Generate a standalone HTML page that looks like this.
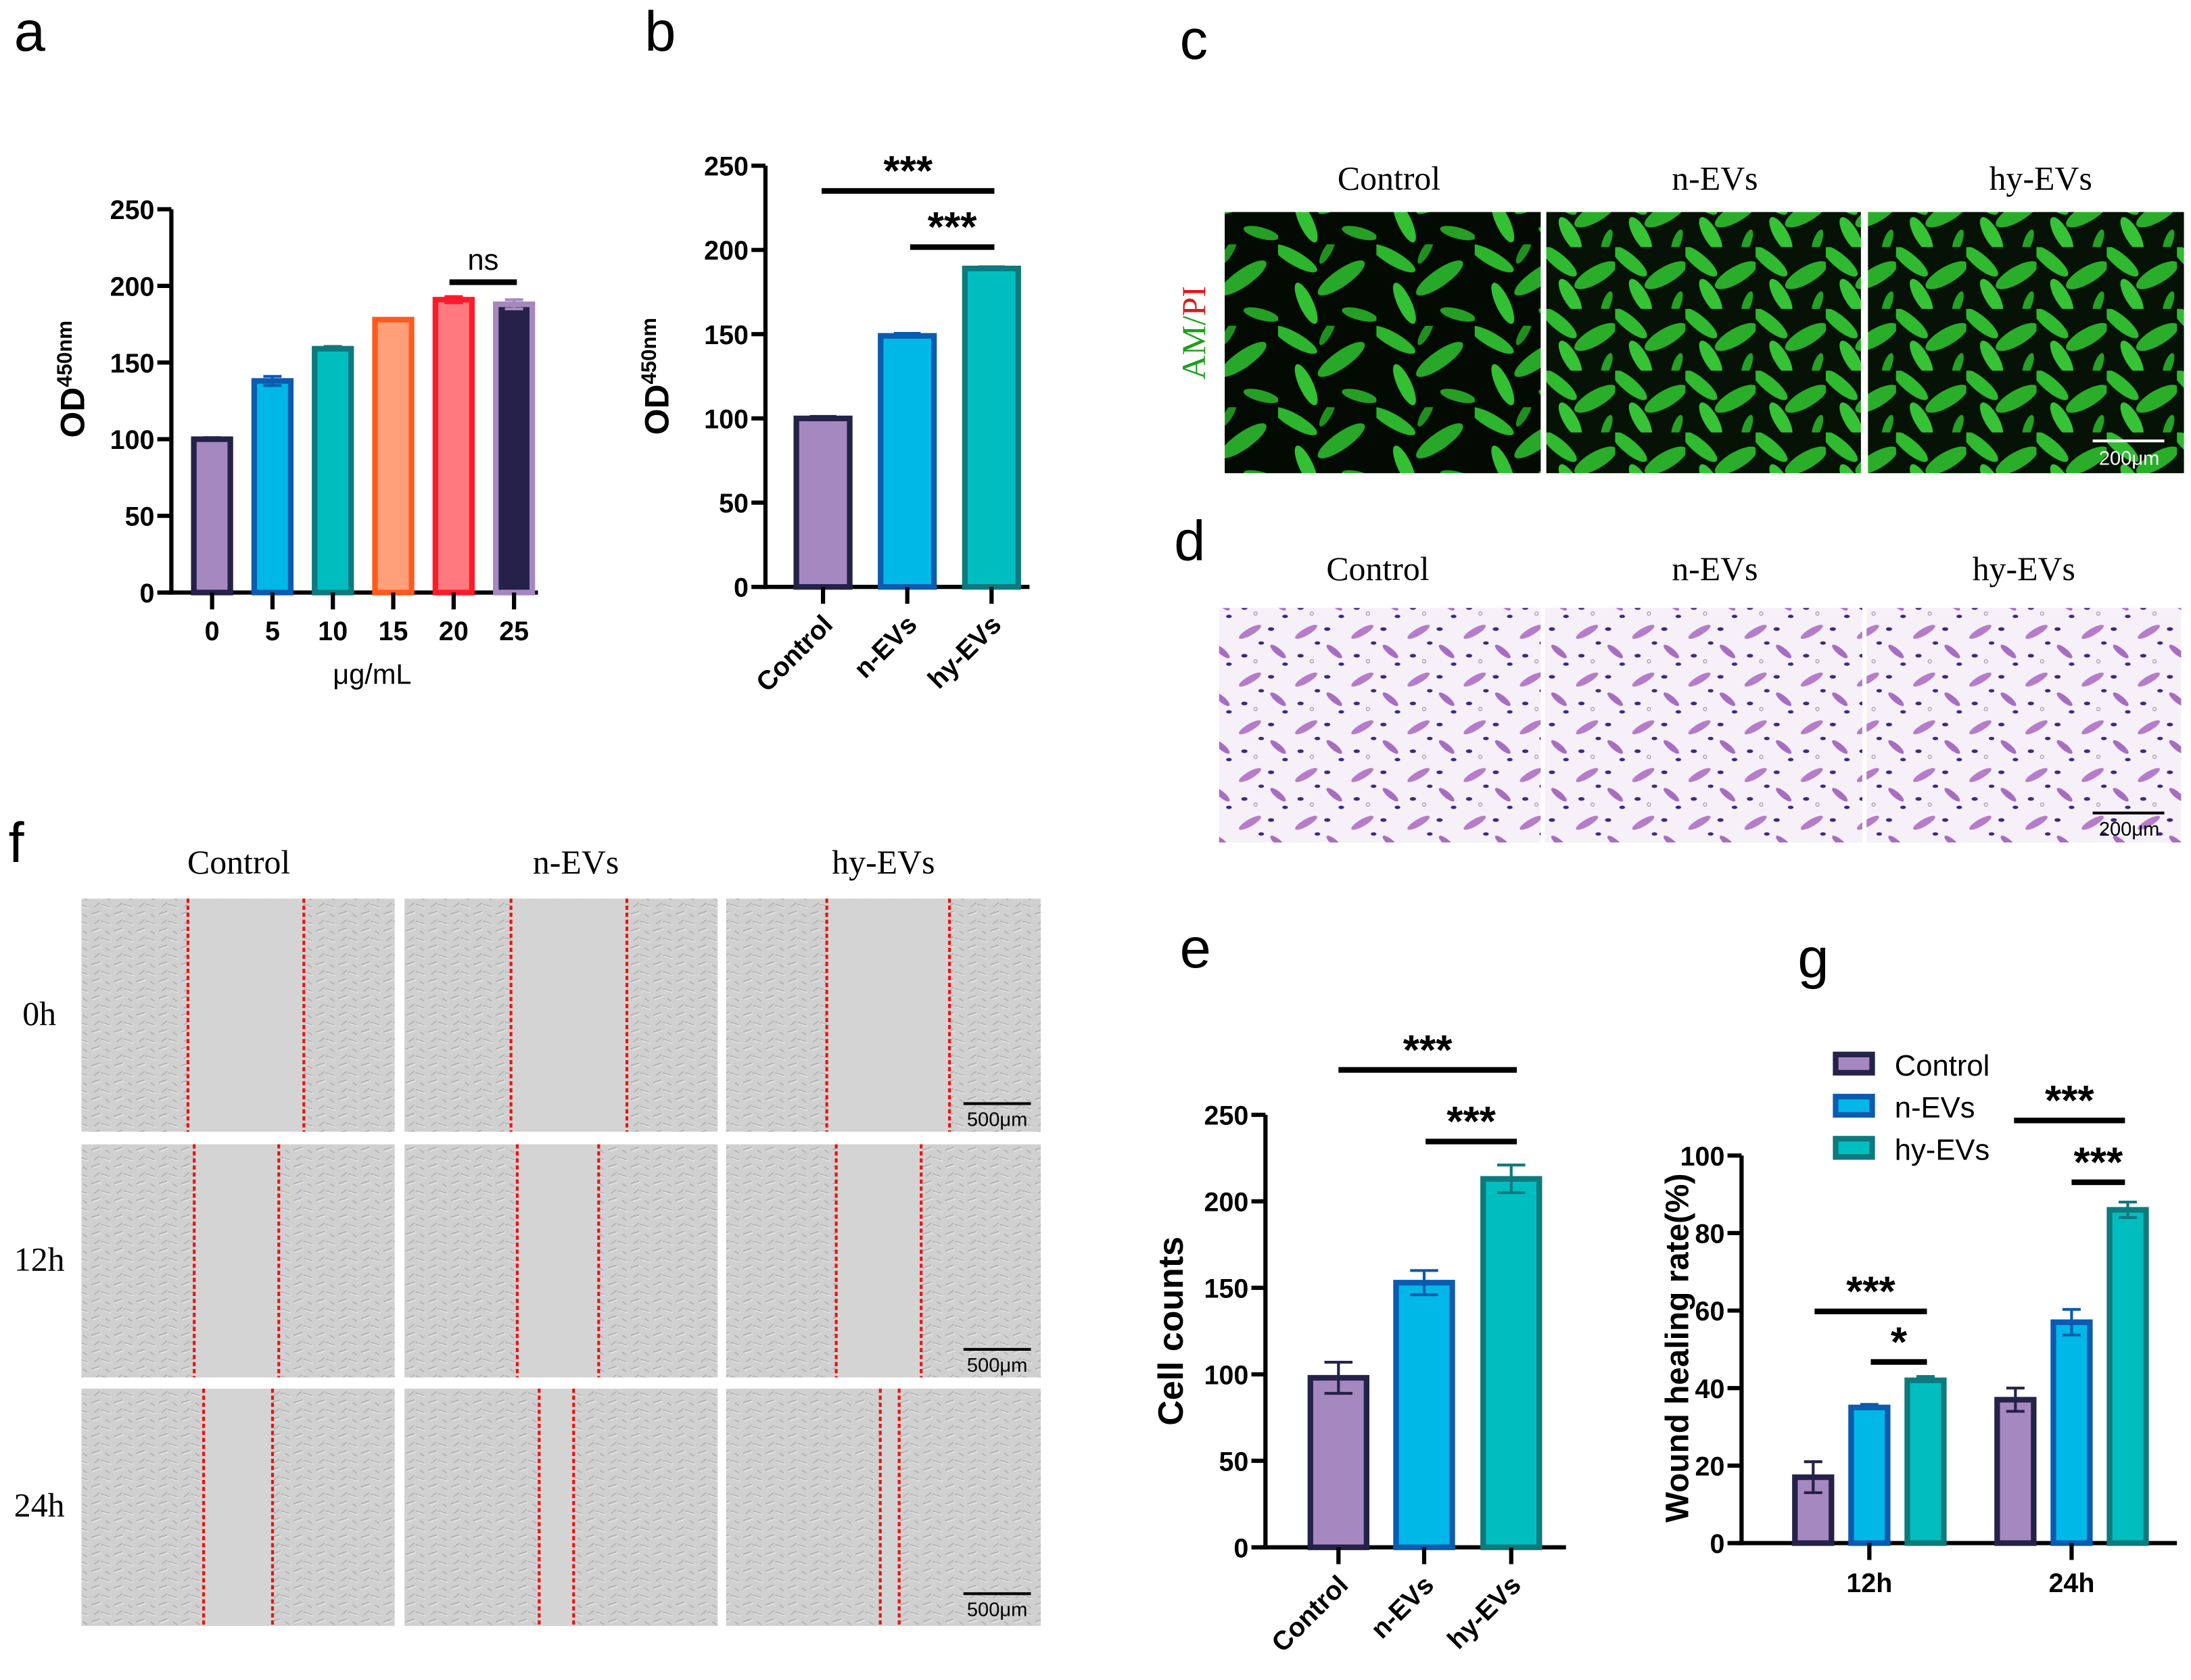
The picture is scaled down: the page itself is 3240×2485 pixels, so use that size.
<!DOCTYPE html>
<html><head><meta charset="utf-8"><style>
html,body{margin:0;padding:0;background:#fff}
svg{display:block}
text{font-family:"Liberation Sans",sans-serif}
.ser{font-family:"Liberation Serif",serif}
.tk{font-weight:bold;font-size:19px}
</style></head><body>
<svg id="fig" xmlns="http://www.w3.org/2000/svg" width="3240" height="2485" viewBox="0 0 1560 1196.5">
<defs>
<pattern id="pFluo" width="70" height="58" patternUnits="userSpaceOnUse">
<rect width="70" height="58" fill="#020a02"/>
<ellipse cx="12" cy="10" rx="18" ry="5" fill="#2db52d" transform="rotate(30 12 10)"/>
<ellipse cx="45" cy="24" rx="20" ry="6" fill="#28a828" transform="rotate(-35 45 24)"/>
<ellipse cx="20" cy="42" rx="16" ry="5" fill="#33c033" transform="rotate(65 20 42)"/>
<ellipse cx="58" cy="50" rx="13" ry="4" fill="#25a025" transform="rotate(15 58 50)"/>
<ellipse cx="35" cy="5" rx="10" ry="3" fill="#1f901f" transform="rotate(-60 35 5)"/>
</pattern>
<pattern id="pFluo2" width="50" height="44" patternUnits="userSpaceOnUse">
<rect width="50" height="44" fill="#051205"/>
<ellipse cx="10" cy="10" rx="16" ry="5" fill="#2fba2f" transform="rotate(40 10 10)"/>
<ellipse cx="36" cy="20" rx="17" ry="6" fill="#2aae2a" transform="rotate(-30 36 20)"/>
<ellipse cx="18" cy="35" rx="14" ry="5" fill="#36c436" transform="rotate(60 18 35)"/>
<ellipse cx="44" cy="40" rx="9" ry="3" fill="#24a224" transform="rotate(-70 44 40)"/>
</pattern>
<pattern id="pStain" width="40" height="34" patternUnits="userSpaceOnUse">
<rect width="40" height="34" fill="#f6f0f8"/>
<ellipse cx="10" cy="8" rx="9" ry="2.5" fill="#b57cc8" transform="rotate(-30 10 8)"/>
<ellipse cx="30" cy="22" rx="7" ry="2.2" fill="#a86cc0" transform="rotate(40 30 22)"/>
<ellipse cx="25" cy="6" rx="2.2" ry="1.3" fill="#3a2a80"/>
<ellipse cx="6" cy="25" rx="2.2" ry="1.3" fill="#3a2a80"/>
<ellipse cx="18" cy="16" rx="2" ry="1.2" fill="#3a2a80"/>
<ellipse cx="35" cy="31" rx="2" ry="1.2" fill="#3a2a80"/>
<circle cx="14" cy="29" r="1.2" fill="none" stroke="#8a8aa8" stroke-width="0.5"/>
</pattern>
<pattern id="pCells" width="16" height="12" patternUnits="userSpaceOnUse">
<rect width="16" height="12" fill="#d0d0d0"/>
<path d="M1 3 l6 -2 M8 8 l6 2 M3 10 l4 -3 M11 3 l3 2" stroke="#adadad" stroke-width="0.7"/>
<path d="M2 4 l6 -2 M9 9 l6 2" stroke="#e8e8e8" stroke-width="0.6"/>
</pattern>
</defs>

<g id="letters" font-size="40">
<text x="10" y="36">a</text>
<text x="459" y="36">b</text>
<text x="840" y="42">c</text>
<text x="836" y="399">d</text>
<text x="6" y="614">f</text>
<text x="840" y="689">e</text>
<text x="1280" y="696">g</text>
</g>

<g>
<text class="ser" x="989" y="135" font-size="24" text-anchor="middle">Control</text>
<text class="ser" x="1221" y="135" font-size="24" text-anchor="middle">n-EVs</text>
<text class="ser" x="1453" y="135" font-size="24" text-anchor="middle">hy-EVs</text>
<text class="ser" transform="translate(858 237) rotate(-90)" font-size="24" text-anchor="middle"><tspan fill="#1aa01a">AM/</tspan><tspan fill="#e01818">PI</tspan></text>
<rect x="872" y="151" width="225" height="186" fill="url(#pFluo)"/>
<rect x="1101" y="151" width="224" height="186" fill="url(#pFluo2)"/>
<rect x="1330" y="151" width="225" height="186" fill="url(#pFluo2)"/>
<line x1="1490" y1="314" x2="1541" y2="314" stroke="#fff" stroke-width="2"/>
<text x="1516" y="331" font-size="14" fill="#fff" text-anchor="middle">200μm</text>
</g>

<g>
<text class="ser" x="981" y="413" font-size="24" text-anchor="middle">Control</text>
<text class="ser" x="1221" y="413" font-size="24" text-anchor="middle">n-EVs</text>
<text class="ser" x="1441" y="413" font-size="24" text-anchor="middle">hy-EVs</text>
<rect x="868" y="433" width="229" height="167" fill="url(#pStain)"/>
<rect x="1100" y="433" width="226" height="167" fill="url(#pStain)"/>
<rect x="1329" y="433" width="224" height="167" fill="url(#pStain)"/>
<line x1="1490" y1="579" x2="1541" y2="579" stroke="#000" stroke-width="2"/>
<text x="1516" y="595" font-size="14" text-anchor="middle">200μm</text>
</g>

<g id="panelF">
<text class="ser" x="170" y="622" font-size="24" text-anchor="middle">Control</text>
<text class="ser" x="410" y="622" font-size="24" text-anchor="middle">n-EVs</text>
<text class="ser" x="629" y="622" font-size="24" text-anchor="middle">hy-EVs</text>
<text class="ser" x="28" y="730" font-size="24" text-anchor="middle">0h</text>
<text class="ser" x="28" y="905" font-size="24" text-anchor="middle">12h</text>
<text class="ser" x="28" y="1080" font-size="24" text-anchor="middle">24h</text>
</g>

<g id="chartA"></g>
<g id="chartB"></g>
<g id="chartE"></g>
<g id="chartG"></g>
</svg>
<script>
const NS="http://www.w3.org/2000/svg";
const aCats=["0","5","10","15","20","25"];
const aVals=[100,138,159,178,191,188];
const aErrs=[1,3,1.5,0.5,2,3];
const aTicks=[0,50,100,150,200,250];
const bCats=["Control","n-EVs","hy-EVs"];
const bVals=[100,149,189];
const bErrs=[1.2,1.5,1];
const eCats=["Control","n-EVs","hy-EVs"];
const eVals=[98,153,213];
const eErrs=[9,7,8];
const gGroups=["12h","24h"];
const gSeries=["Control","n-EVs","hy-EVs"];
const gControl=[17,37];
const gNEVs=[35,57];
const gHyEVs=[42,86];
const gErrControl=[4,3];
const gErrNEVs=[0.8,3.3];
const gErrHyEVs=[1,2];
const gTicks=[0,20,40,60,80,100];
const woundEdges=[[[0.34,0.71],[0.34,0.71],[0.32,0.71]],[[0.36,0.63],[0.36,0.62],[0.35,0.62]],[[0.39,0.61],[0.43,0.54],[0.49,0.55]]];

const purple={f:"#a688c0",s:"#25224a"},blue={f:"#00b8e8",s:"#0b5bb0"},teal={f:"#00bec0",s:"#0e7a7e"};
const aStyles=[purple,blue,teal,{f:"#ffa07a",s:"#ff5a1e"},{f:"#ff7a7f",s:"#ff1a2a"},{f:"#25214a",s:"#a688c0"}];
const trio=[purple,blue,teal];

function mk(parent,tag,attrs,txt){const e=document.createElementNS(NS,tag);for(const k in attrs)e.setAttribute(k,attrs[k]);if(txt!==undefined)e.textContent=txt;parent.appendChild(e);return e;}
function scale(d0,d1,r0,r1){return v=>r0+(v-d0)/(d1-d0)*(r1-r0);}

function axisY(g,x,y,ticks,x2){
  const ax=mk(g,"line",{x1:x,y1:y(0)+1.5,x2:x,y2:y(ticks[ticks.length-1]),stroke:"#000","stroke-width":3});
  
  
  const xa=mk(g,"line",{x1:x-4,y1:y(0),x2:x2,y2:y(0),stroke:"#000","stroke-width":3});
  
  
  ticks.forEach(t=>{
    const l=mk(g,"line",{x1:x-10,y1:y(t),x2:x,y2:y(t),stroke:"#000","stroke-width":3});
    
    
    const tx=mk(g,"text",{x:x-12,y:y(t)+7,"text-anchor":"end",class:"tk"},t);
    
    
  });
}
function bar(g,cx,w,v,err,y,st,name){
  const b=mk(g,"rect",{x:cx-w/2,y:y(v),width:w,height:y(0)-y(v),fill:st.f,stroke:st.s,"stroke-width":4});
  
  
  const e=mk(g,"path",{d:`M${cx} ${y(v)} V${y(v+err)} M${cx-w*0.25} ${y(v+err)} H${cx+w*0.25}`,stroke:st.s,"stroke-width":2,fill:"none"});
  
  
  if(err>1.5){const e2=mk(g,"path",{d:`M${cx} ${y(v)} V${y(v-err)} M${cx-w*0.25} ${y(v-err)} H${cx+w*0.25}`,stroke:st.s,"stroke-width":2});
  
  }
}
function sig(g,x1,x2,yy,label){
  const l=mk(g,"line",{x1:x1,y1:yy,x2:x2,y2:yy,stroke:"#000","stroke-width":4});
  
  
  const t=mk(g,"text",{x:(x1+x2)/2,y:label==="ns"?yy-9:yy-4,"text-anchor":"middle","font-size":label==="ns"?21:30,"font-weight":label==="ns"?"normal":"bold"},label);
  
  
}
function rotLabels(g,cats,xs,y0){
  cats.forEach((c,i)=>{
    const l=mk(g,"line",{x1:xs[i],y1:y0,x2:xs[i],y2:y0+12,stroke:"#000","stroke-width":3});
    
    
    const t=mk(g,"text",{x:xs[i]+8,y:y0+28,"text-anchor":"end",class:"tk","font-size":22,transform:`rotate(-45 ${xs[i]+8} ${y0+28})`},c);
    
    
  });
}
function ylabel(g,x,y,content,sup,fs){
  const t=mk(g,"text",{transform:`translate(${x} ${y}) rotate(-90)`,"text-anchor":"middle","font-weight":"bold","font-size":fs||22});
  
  
  mk(t,"tspan",{},content);
  if(sup)mk(t,"tspan",{dy:-9,"font-size":15},sup);
}

(function(){const g=document.getElementById("chartA");const y=scale(0,250,422,149);
axisY(g,122,y,aTicks,383);
aCats.forEach((c,i)=>{const cx=151+i*43;bar(g,cx,26,aVals[i],aErrs[i],y,aStyles[i],"bar-"+c);
 const l=mk(g,"line",{x1:cx,y1:422,x2:cx,y2:434,stroke:"#000","stroke-width":3});
 
 
 const t=mk(g,"text",{x:cx,y:456,"text-anchor":"middle",class:"tk"},c);
 
 });
const xt=mk(g,"text",{x:265,y:487,"text-anchor":"middle","font-size":20},"μg/mL");


ylabel(g,60,270,"OD","450nm",24);
sig(g,320,368,201,"ns");})();

(function(){const g=document.getElementById("chartB");const y=scale(0,250,418,118);
axisY(g,545,y,aTicks,733);const xs=[586,646,706];
bCats.forEach((c,i)=>bar(g,xs[i],38,bVals[i],bErrs[i],y,trio[i],"bar-"+c));
rotLabels(g,bCats,xs,418);ylabel(g,476,268,"OD","450nm",24);
sig(g,585,708,136,"***");sig(g,648,708,176,"***");})();

(function(){const g=document.getElementById("chartE");const y=scale(0,250,1102,794);
axisY(g,901,y,aTicks,1115);const xs=[953,1014,1076];
eCats.forEach((c,i)=>bar(g,xs[i],40,eVals[i],eErrs[i],y,trio[i],"bar-"+c));
rotLabels(g,eCats,xs,1102);ylabel(g,842,948,"Cell counts",null,25);
sig(g,953,1080,762,"***");sig(g,1015,1080,813,"***");})();

(function(){const g=document.getElementById("chartG");const y=scale(0,100,1099,823);
axisY(g,1240,y,gTicks,1550);
const vals=[gControl,gNEVs,gHyEVs],errs=[gErrControl,gErrNEVs,gErrHyEVs],centers=[1331,1475];
gGroups.forEach((gr,j)=>{
 gSeries.forEach((s,i)=>bar(g,centers[j]+(i-1)*40,26,vals[i][j],errs[i][j],y,trio[i],"bar-"+s+"-"+gr));
 const l=mk(g,"line",{x1:centers[j],y1:1099,x2:centers[j],y2:1111,stroke:"#000","stroke-width":3});
 
 
 const t=mk(g,"text",{x:centers[j],y:1134,"text-anchor":"middle",class:"tk"},gr);
 
 });
ylabel(g,1202,960,"Wound healing rate(%)",null,23);
gSeries.forEach((s,i)=>{
 const r=mk(g,"rect",{x:1307,y:751+i*30,width:26,height:13,fill:trio[i].f,stroke:trio[i].s,"stroke-width":4});
 
 
 const t=mk(g,"text",{x:1349,y:766+i*30,"font-size":21},s);
 
 });
sig(g,1292,1372,934,"***");sig(g,1332,1372,970,"*");
sig(g,1434,1513,798,"***");sig(g,1475,1513,842,"***");})();

(function(){const g=document.getElementById("panelF");
const cols=[[58,223],[288,223],[517,224]],rows=[[640,166],[815,166],[989,169]];
rows.forEach((r,ri)=>cols.forEach((c,ci)=>{
 const im=mk(g,"rect",{x:c[0],y:r[0],width:c[1],height:r[1],fill:"url(#pCells)"});
 
 
 const e=woundEdges[ri][ci];const xa=c[0]+e[0]*c[1],xb=c[0]+e[1]*c[1];
 const gap=mk(g,"rect",{x:xa,y:r[0],width:xb-xa,height:r[1],fill:"#d4d4d4"});
 
 
 [xa,xb].forEach(xx=>{const l=mk(g,"line",{x1:xx,y1:r[0],x2:xx,y2:r[0]+r[1],stroke:"#f01010","stroke-width":2,"stroke-dasharray":"3 2"});
  
  });
 if(ci===2){const sb=mk(g,"line",{x1:686,y1:r[0]+146,x2:734,y2:r[0]+146,stroke:"#000","stroke-width":2});
  
  
  const st=mk(g,"text",{x:710,y:r[0]+162,"text-anchor":"middle","font-size":14},"500μm");
  
  }
}));})();
</script>
</body></html>
